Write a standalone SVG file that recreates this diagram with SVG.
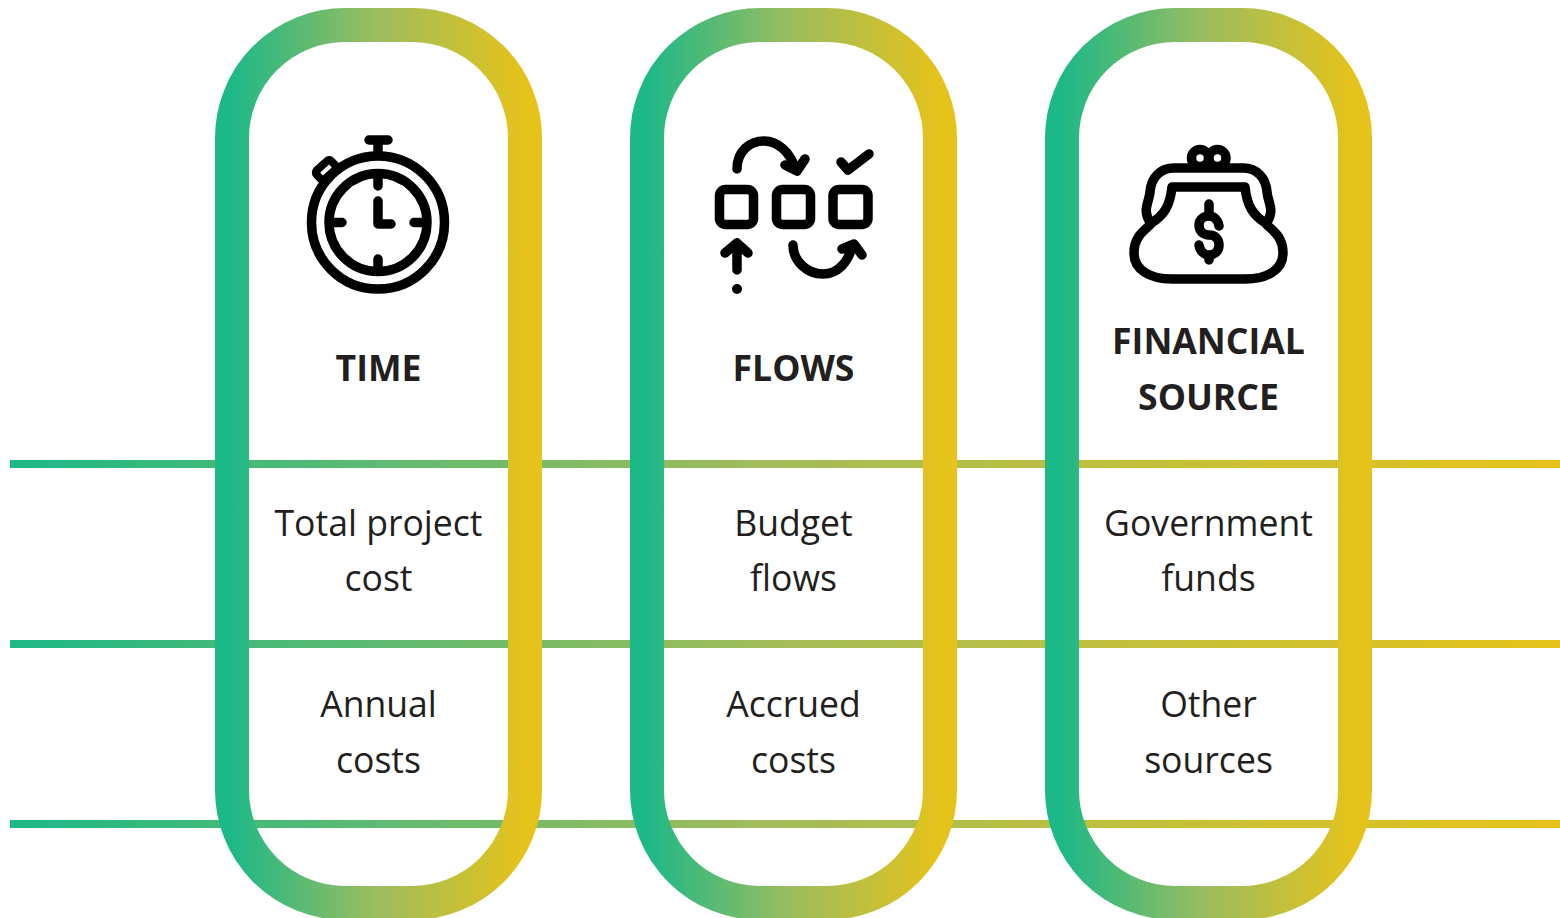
<svg xmlns="http://www.w3.org/2000/svg" width="1560" height="918" viewBox="0 0 1560 918">
<style>
.pill{fill:none;stroke:url(#pg);stroke-width:34}
.rule{fill:url(#lg)}
text{font-family:"Open Sans","Liberation Sans",sans-serif;fill:#231f20;text-anchor:middle;font-size:35.6px}
.h{font-weight:700}
.ic{fill:none;stroke:#000;stroke-width:9.5;stroke-linecap:round;stroke-linejoin:round}
</style>
<defs>
<linearGradient id="pg" x1="0" y1="0" x2="1" y2="0"><stop offset="0" stop-color="#1db887"/><stop offset="0.5" stop-color="#9dbd5d"/><stop offset="1" stop-color="#e6c31a"/></linearGradient>
<linearGradient id="lg" gradientUnits="userSpaceOnUse" x1="10" y1="0" x2="1560" y2="0"><stop offset="0" stop-color="#1db887"/><stop offset="0.5" stop-color="#a5bd58"/><stop offset="1" stop-color="#e6c31a"/></linearGradient>
</defs>
<rect width="1560" height="918" fill="#fff"/>
<g id="connectors">
<rect class="rule" x="10" y="460" width="1550" height="8"/>
<rect class="rule" x="10" y="640" width="1550" height="8"/>
<rect class="rule" x="10" y="820" width="1550" height="8"/>
</g>
<g id="time">
<rect class="pill" x="232" y="25" width="293" height="878" rx="113"/>
<g class="ic">
<path d="M369 140H388M378 140V152"/>
<rect x="316" y="164" width="20" height="12" rx="3" stroke-width="8" transform="rotate(-42 326 170)"/>
<circle cx="378" cy="222.500" r="66.500"/>
<circle cx="378" cy="222.500" r="49"/>
<path d="M378 179V186M378 259V266M335 222.500H342M414 222.500H421M378 201V224H391"/>
</g>
<text class="h" x="378.500" y="380.500">TIME</text>
<text x="378.500" y="535.500">Total project</text>
<text x="378.500" y="590.500">cost</text>
<text x="378.500" y="717">Annual</text>
<text x="378.500" y="773">costs</text>
</g>
<g id="flows">
<rect class="pill" x="647" y="25" width="293" height="878" rx="113"/>
<g class="ic">
<rect x="719.500" y="189.500" width="34" height="35" rx="6"/>
<rect x="776.500" y="189.500" width="34" height="35" rx="6"/>
<rect x="833" y="189.500" width="35" height="35" rx="6"/>
<path d="M737 169C737 151 750 141 764 141C778 141 790 152 796 170M785 165L797 171L805 159"/>
<path d="M841 162L848 170L869 154"/>
<path d="M737 270V246M725 253L737 243L748 253"/>
<path d="M793 245C793 262 808 274 823 274C838 274 848 262 852 247M842 249L854 244L862 255"/>
</g>
<circle cx="737" cy="289" r="5" fill="#000"/>
<text class="h" x="793.500" y="380.500">FLOWS</text>
<text x="793.500" y="535.500">Budget</text>
<text x="793.500" y="590.500">flows</text>
<text x="793.500" y="717">Accrued</text>
<text x="793.500" y="773">costs</text>
</g>
<g id="financial-source">
<rect class="pill" x="1062" y="25" width="293" height="878" rx="113"/>
<g class="ic">
<circle cx="1200" cy="158" r="8.500"/>
<circle cx="1217.500" cy="158" r="8.500"/>
<path d="M1150 222C1142 210 1149 203 1150 192C1151 178 1160 168 1174 168H1243C1257 168 1266 178 1267 192C1268 203 1275 210 1267 222"/>
<path d="M1172 187H1245M1172 187C1170 205 1165 215 1150 224M1245 187C1247 205 1252 215 1267 224"/>
<path d="M1150 225C1142 232 1134 238 1134 253C1134 270 1150 279 1172 279H1245C1267 279 1283 270 1283 253C1283 238 1275 232 1267 225"/>
<path d="M1209 204V216M1209 255V260M1219 226C1218 220 1214 216 1209 216C1203 216 1199 220 1199 225C1199 231 1203 235 1209 235C1215 235 1219 239 1219 245C1219 251 1215 255 1209 255C1204 255 1200 251 1199 245"/>
</g>
<text class="h" x="1208.500" y="353.500">FINANCIAL</text>
<text class="h" x="1208.500" y="409.500">SOURCE</text>
<text x="1208.500" y="535.500">Government</text>
<text x="1208.500" y="590.500">funds</text>
<text x="1208.500" y="717">Other</text>
<text x="1208.500" y="773">sources</text>
</g>
</svg>
